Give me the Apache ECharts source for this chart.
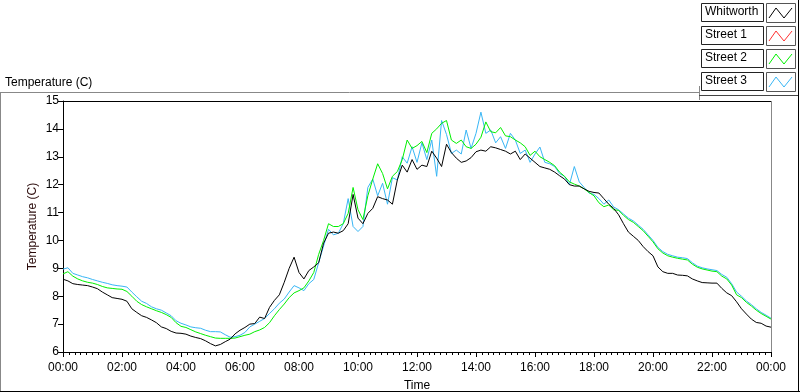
<!DOCTYPE html>
<html>
<head>
<meta charset="utf-8">
<script src="https://cdn.jsdelivr.net/npm/echarts@6/dist/echarts.min.js"></script>
<style>
html, body { margin: 0; padding: 0; background: #fff; }
#chart { width: 800px; height: 392px; }
</style>
</head>
<body>
<div id="chart"></div>
<script>
// readings every 10 minutes, 00:00 .. 24:00
var sampleStep = 10;
var seriesNames = ['Whitworth', 'Street 1', 'Street 2', 'Street 3'];
var seriesColors = ['#000000', '#ff3030', '#00f000', '#38b6f5'];
var xTickLabels = ['00:00', '02:00', '04:00', '06:00', '08:00', '10:00', '12:00',
    '14:00', '16:00', '18:00', '20:00', '22:00', '00:00'];

var whitworth = [
    8.61, 8.55, 8.45, 8.42, 8.40, 8.38,
    8.33, 8.27, 8.15, 8.05, 7.95, 7.92,
    7.89, 7.82, 7.55, 7.42, 7.30, 7.24,
    7.15, 7.05, 6.90, 6.84, 6.74, 6.68,
    6.67, 6.64, 6.57, 6.52, 6.48, 6.40,
    6.30, 6.22, 6.27, 6.37, 6.46, 6.65,
    6.78, 6.88, 7.00, 7.02, 7.25, 7.20,
    7.60, 7.85, 8.05, 8.50, 9.00, 9.40,
    8.85, 8.62, 8.92, 9.05, 9.20, 9.90,
    10.26, 10.30, 10.26, 10.35, 10.60, 11.65,
    10.80, 10.60, 10.97, 11.15, 11.57, 11.50,
    11.45, 11.30, 12.17, 12.70, 12.45, 12.90,
    12.55, 12.70, 12.65, 13.20, 12.95, 12.65,
    13.45, 13.15, 12.95, 12.80, 12.85, 12.97,
    13.18, 13.24, 13.20, 13.36, 13.32, 13.26,
    13.20, 13.10, 13.20, 12.90, 13.10, 12.95,
    12.80, 12.65, 12.60, 12.55, 12.45, 12.32,
    12.20, 12.00, 11.95, 11.95, 11.85, 11.76,
    11.72, 11.70, 11.50, 11.30, 11.15, 10.92,
    10.60, 10.30, 10.15, 10.00, 9.78, 9.60,
    9.45, 9.05, 8.88, 8.82, 8.82, 8.76,
    8.75, 8.73, 8.62, 8.55, 8.49, 8.48,
    8.47, 8.47, 8.28, 8.12, 8.02, 7.80,
    7.55, 7.36, 7.18, 7.06, 7.03, 6.93,
    6.89
];

// no readings recorded for Street 1
var street1 = [];

var street2 = [
    8.80, 8.88, 8.72, 8.62, 8.55, 8.50,
    8.47, 8.42, 8.35, 8.30, 8.28, 8.26,
    8.25, 8.17, 8.00, 7.82, 7.70, 7.62,
    7.55, 7.48, 7.42, 7.34, 7.24, 7.05,
    6.92, 6.88, 6.80, 6.72, 6.66, 6.60,
    6.55, 6.50, 6.49, 6.49, 6.49, 6.50,
    6.55, 6.60, 6.64, 6.73, 6.79, 6.88,
    7.05, 7.30, 7.52, 7.72, 7.95, 8.12,
    8.20, 8.30, 8.55, 8.85, 9.50, 10.00,
    10.60, 10.50, 10.50, 10.60, 10.97, 11.90,
    11.10, 10.75, 11.60, 12.20, 12.75, 12.40,
    11.85, 12.30, 12.47, 12.90, 13.60, 13.30,
    13.40, 13.55, 13.15, 13.84, 14.00, 14.20,
    14.30, 13.60, 13.48, 13.60, 13.36, 13.30,
    13.45, 13.70, 14.25, 13.90, 13.86, 14.05,
    13.75, 13.72, 13.60, 13.50, 13.36, 13.05,
    13.20, 13.00, 12.90, 12.80, 12.68, 12.45,
    12.30, 12.10, 12.02, 11.95, 11.85, 11.72,
    11.60, 11.35, 11.21, 11.27, 11.10, 11.08,
    10.90, 10.75, 10.65, 10.50, 10.35, 10.15,
    9.95, 9.70, 9.55, 9.45, 9.40, 9.36,
    9.33, 9.30, 9.15, 9.04, 8.98, 8.94,
    8.90, 8.88, 8.72, 8.62, 8.40, 8.05,
    7.95, 7.78, 7.65, 7.50, 7.38, 7.28,
    7.18
];

var street3 = [
    8.97, 9.02, 8.82, 8.76, 8.70, 8.66,
    8.60, 8.55, 8.50, 8.46, 8.41, 8.38,
    8.36, 8.33, 8.15, 7.98, 7.82, 7.74,
    7.62, 7.55, 7.50, 7.40, 7.30, 7.12,
    7.03, 6.97, 6.90, 6.87, 6.85, 6.78,
    6.73, 6.73, 6.72, 6.62, 6.53, 6.55,
    6.60, 6.70, 6.90, 7.00, 7.10, 7.20,
    7.38, 7.55, 7.75, 7.90, 8.15, 8.38,
    8.30, 8.20, 8.45, 8.60, 9.20, 9.80,
    10.40, 10.20, 10.26, 10.60, 11.50, 10.50,
    10.32, 10.50, 11.90, 12.20, 11.60, 12.05,
    11.30, 12.25, 12.17, 13.00, 12.77, 13.36,
    12.80, 13.50, 12.90, 13.60, 12.30, 14.30,
    13.80, 13.12, 13.24, 13.10, 13.96, 13.30,
    13.84, 14.60, 13.84, 13.96, 13.50, 13.72,
    13.30, 13.84, 13.60, 13.12, 13.24, 12.80,
    13.10, 13.35, 12.80, 12.75, 12.65, 12.40,
    12.30, 12.00, 12.65, 12.10, 11.90, 11.70,
    11.65, 11.50, 11.30, 11.45, 11.20, 11.10,
    10.95, 10.80, 10.70, 10.55, 10.40, 10.20,
    10.00, 9.75, 9.60, 9.50, 9.45, 9.40,
    9.38, 9.35, 9.20, 9.08, 9.02, 8.98,
    8.95, 8.92, 8.78, 8.68, 8.45, 8.15,
    8.00, 7.83, 7.70, 7.55, 7.42, 7.32,
    7.21
];

function toPairs(values) {
    var out = [];
    for (var i = 0; i < values.length; i++) {
        out.push([i * sampleStep, values[i]]);
    }
    return out;
}

var font = 'Liberation Sans, Arial, sans-serif';
var chart = echarts.init(document.getElementById('chart'));

// legend boxes in the LabVIEW style, top right
var legendItems = [];
seriesNames.forEach(function (name, i) {
    var top = 3 + i * 23;
    legendItems.push({
        type: 'rect', shape: { x: 701.5, y: top + 0.5, width: 62, height: 18 },
        style: { fill: '#fff', stroke: '#222', lineWidth: 1 }
    });
    legendItems.push({
        type: 'text', left: 705, top: top + 3,
        style: { text: name, fill: '#000', font: '12px ' + font }
    });
    legendItems.push({
        type: 'rect', shape: { x: 766.5, y: top + 0.5, width: 29, height: 19 },
        style: { fill: '#fff', stroke: '#555', lineWidth: 1 }
    });
    legendItems.push({
        type: 'polyline',
        shape: { points: [[769, top + 15], [776, top + 5], [784, top + 15], [792, top + 5]] },
        style: { stroke: seriesColors[i], lineWidth: 1, fill: null }
    });
});

var frame = [
    { type: 'line', shape: { x1: 0, y1: 92.5, x2: 699, y2: 92.5 }, style: { stroke: '#888', lineWidth: 1 } },
    { type: 'line', shape: { x1: 0.5, y1: 92, x2: 0.5, y2: 392 }, style: { stroke: '#888', lineWidth: 1 } },
    { type: 'line', shape: { x1: 699.5, y1: 86, x2: 699.5, y2: 100 }, style: { stroke: '#888', lineWidth: 1 } },
    { type: 'line', shape: { x1: 699, y1: 95.5, x2: 798, y2: 95.5 }, style: { stroke: '#444', lineWidth: 1 } },
    { type: 'line', shape: { x1: 0, y1: 391.5, x2: 800, y2: 391.5 }, style: { stroke: '#000', lineWidth: 1 } },
    { type: 'line', shape: { x1: 798.5, y1: 0, x2: 798.5, y2: 392 }, style: { stroke: '#000', lineWidth: 1 } },
    // grey right edge of the plot
    { type: 'line', shape: { x1: 771.5, y1: 101, x2: 771.5, y2: 352 }, style: { stroke: '#888', lineWidth: 1 } },
    // black top edge of the plot
    { type: 'line', shape: { x1: 63, y1: 101.5, x2: 771, y2: 101.5 }, style: { stroke: '#000', lineWidth: 1 } },
    { type: 'text', left: 5, top: 77, style: { text: 'Temperature (C)', fill: '#000', font: '12px ' + font } }
];

var option = {
    animation: false,
    backgroundColor: '#fff',
    grid: {
        left: 63, right: 29, top: 101, bottom: 40,
        show: true, borderWidth: 0, outerBoundsMode: 'none', containLabel: false
    },
    xAxis: {
        type: 'value',
        min: 0,
        max: 1440,
        interval: 120,
        name: 'Time',
        nameLocation: 'middle',
        nameGap: 28,
        nameMoveOverlap: false,
        nameTextStyle: { color: '#000', fontSize: 12, fontFamily: font },
        axisLine: { show: true, lineStyle: { color: '#000', width: 1 } },
        axisTick: { show: true, length: 5, lineStyle: { color: '#000' } },
        minorTick: { show: true, splitNumber: 10, length: 3, lineStyle: { color: '#000' } },
        splitLine: { show: false },
        axisLabel: {
            color: '#000', fontSize: 12, fontFamily: font, margin: 10,
            formatter: function (v) { return xTickLabels[Math.round(v / 120)]; }
        }
    },
    yAxis: {
        type: 'value',
        min: 6,
        max: 15,
        interval: 1,
        name: 'Temperature (C)',
        nameLocation: 'middle',
        nameRotate: 90,
        nameGap: 24,
        nameMoveOverlap: false,
        nameTextStyle: { color: '#2a0a0a', fontSize: 12, fontFamily: font },
        axisLine: { show: true, lineStyle: { color: '#000', width: 1 } },
        axisTick: { show: true, length: 5, lineStyle: { color: '#000' } },
        splitLine: { show: false },
        axisLabel: { color: '#000', fontSize: 12, fontFamily: font, margin: 4 }
    },
    series: [{
        name: 'Street 3', type: 'line', data: toPairs(street3), showSymbol: false,
        lineStyle: { color: seriesColors[3], width: 1 }, z: 2
    }, {
        name: 'Street 2', type: 'line', data: toPairs(street2), showSymbol: false,
        lineStyle: { color: seriesColors[2], width: 1 }, z: 3
    }, {
        name: 'Street 1', type: 'line', data: toPairs(street1), showSymbol: false,
        lineStyle: { color: seriesColors[1], width: 1 }, z: 3
    }, {
        name: 'Whitworth', type: 'line', data: toPairs(whitworth), showSymbol: false,
        lineStyle: { color: seriesColors[0], width: 1 }, z: 4
    }],
    graphic: frame.concat(legendItems)
};

chart.setOption(option);
</script>
</body>
</html>
